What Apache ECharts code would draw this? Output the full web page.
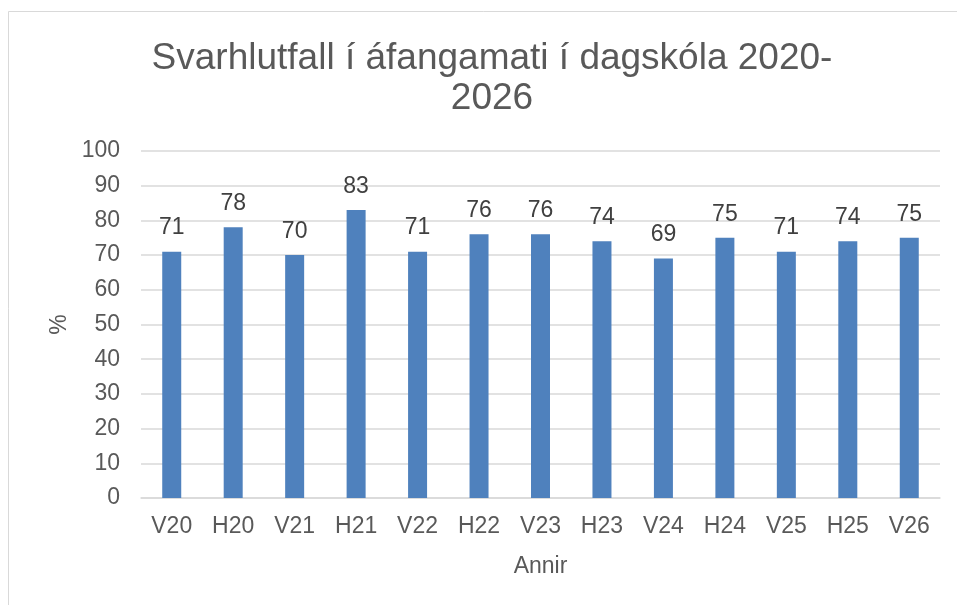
<!DOCTYPE html>
<html lang="is">
<head>
    <meta charset="UTF-8">
    <script src="https://cdn.jsdelivr.net/npm/echarts@6/dist/echarts.min.js"></script>
    <title>Svarhlutfall</title>
    <style>
        html, body { margin: 0; padding: 0; background: #fff; }
    </style>
</head>
<body>
<div id="main" style="width: 957px;height:605px;"></div>

<script type="text/javascript">
    // gögn
    var annir = ['V20', 'H20', 'V21', 'H21', 'V22', 'H22', 'V23', 'H23', 'V24', 'H24', 'V25', 'H25', 'V26'];
    var svarhlutfall = [71, 78, 70, 83, 71, 76, 76, 74, 69, 75, 71, 74, 75];
    var titill = 'Svarhlutfall í áfangamati í dagskóla 2020-\n2026';

    var myChart = echarts.init(document.getElementById('main'));
    var font = '"Liberation Sans", Arial, sans-serif';

    var option = {
        backgroundColor: '#ffffff',
        animation: false,
        textStyle: { fontFamily: font },
        graphic: [{
            type: 'rect',
            shape: { x: 8.5, y: 11.5, width: 960, height: 600 },
            style: { fill: 'none', stroke: '#d9d9d9', lineWidth: 1 }
        }],
        title: {
            text: titill,
            left: 487,
            textAlign: 'center',
            top: 34,
            textStyle: {
                color: '#595959',
                fontSize: 37,
                fontWeight: 'normal',
                fontFamily: font,
                lineHeight: 40
            }
        },
        grid: {
            left: 141,
            right: 17,
            top: 151,
            bottom: 107
        },
        xAxis: {
            type: 'category',
            data: annir,
            name: 'Annir',
            nameLocation: 'middle',
            nameGap: 57,
            nameTextStyle: { color: '#595959', fontSize: 23, fontFamily: font },
            axisTick: { show: false },
            axisLine: { lineStyle: { color: '#d9d9d9', width: 1.5 } },
            axisLabel: { color: '#595959', fontSize: 23, margin: 17, fontFamily: font }
        },
        yAxis: {
            type: 'value',
            min: 0,
            max: 100,
            interval: 10,
            name: '%',
            nameLocation: 'middle',
            nameGap: 70,
            nameRotate: 90,
            nameTextStyle: { color: '#595959', fontSize: 23, fontFamily: font },
            axisLine: { show: false },
            axisTick: { show: false },
            axisLabel: { color: '#595959', fontSize: 23, margin: 21, fontFamily: font },
            splitLine: { lineStyle: { color: '#d9d9d9', width: 1.5 } }
        },
        series: [{
            type: 'bar',
            data: svarhlutfall,
            barWidth: 19,
            itemStyle: { color: '#4f81bd' },
            label: {
                show: true,
                position: 'top',
                distance: 12,
                color: '#404040',
                fontSize: 23,
                fontFamily: font
            }
        }]
    };

    myChart.setOption(option);
</script>
</body>
</html>
